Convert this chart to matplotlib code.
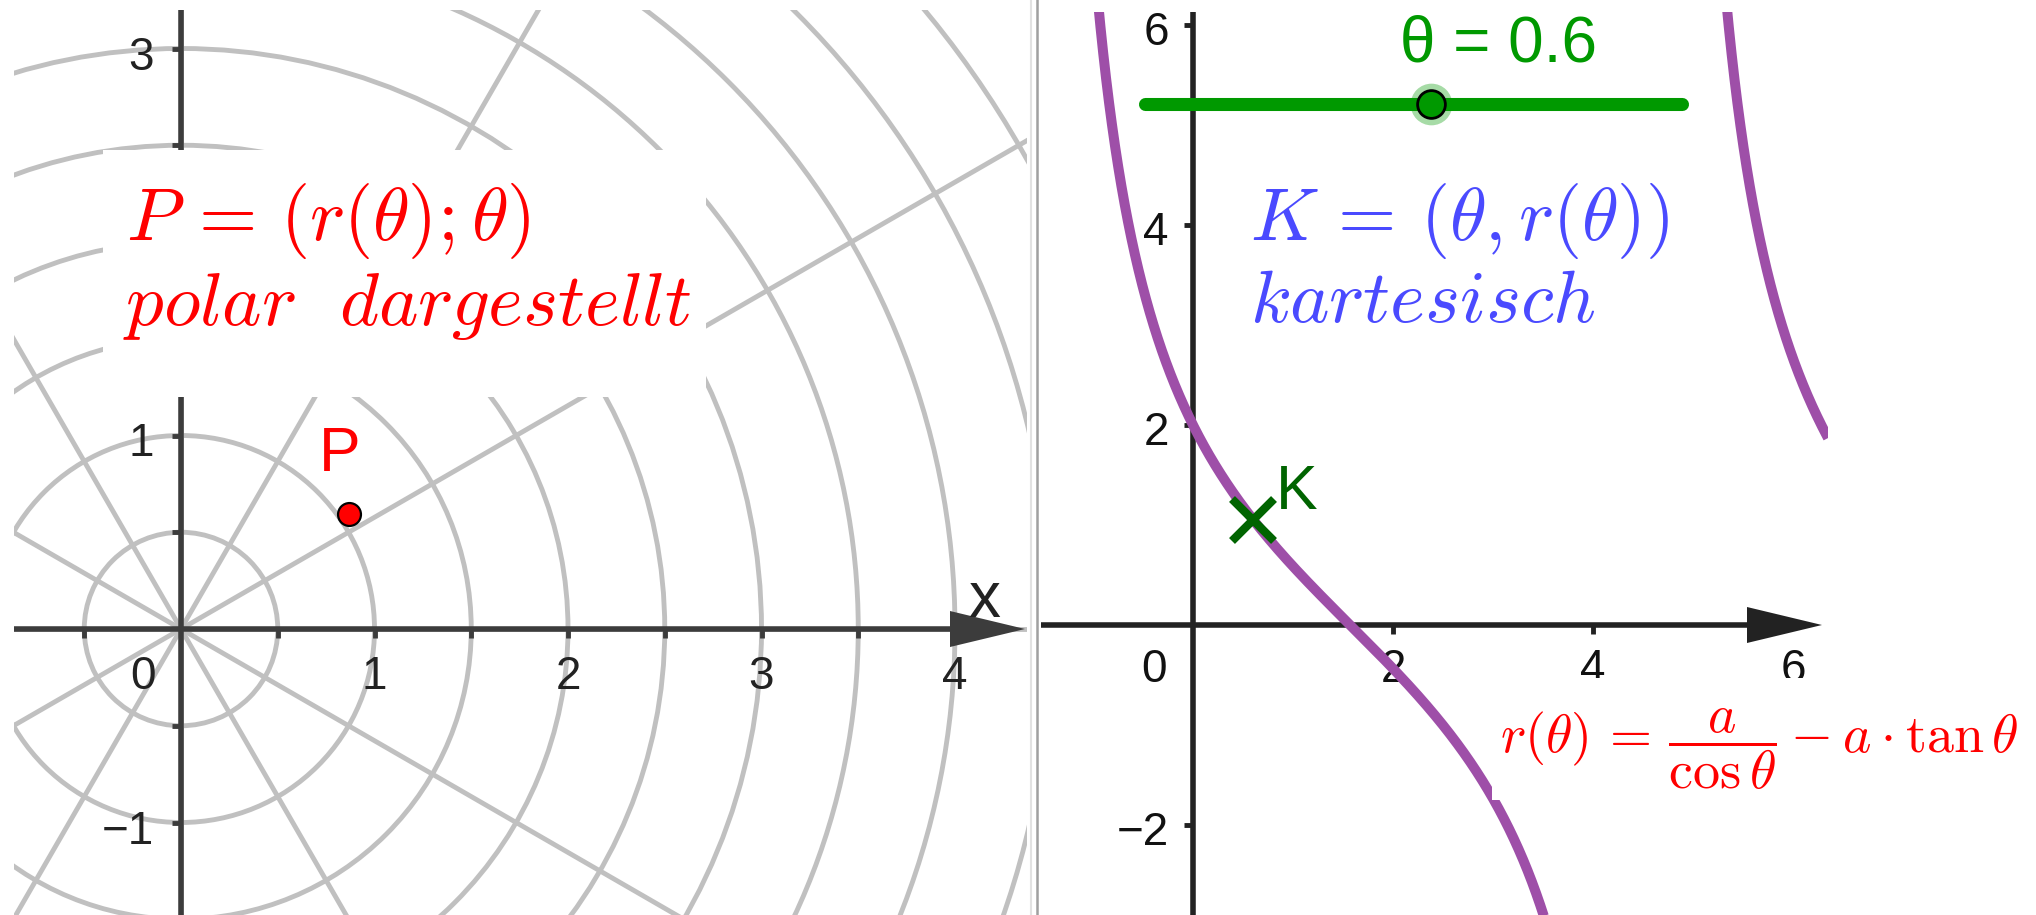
import numpy as np
import matplotlib.pyplot as plt
from matplotlib.patches import Rectangle, Circle
from matplotlib.lines import Line2D
from matplotlib import transforms

plt.rcParams['mathtext.fontset'] = 'cm'
plt.rcParams['font.family'] = ['Liberation Sans', 'DejaVu Sans']

W, H = 2036, 915

# r(theta) = a/cos(theta) - a*tan(theta), slider for theta
a = 2.0
theta = 0.6
slider_min, slider_max = -1.0, 2.0
slider_x = [-0.48, 4.89]
slider_y = 5.21

# polar grid of the left view
grid_radii = np.arange(0.5, 6.0, 0.5)
grid_angles = np.deg2rad(np.arange(0, 360, 30))

left_xticks = [-0.5, 0.5, 1, 1.5, 2, 2.5, 3, 3.5]
left_xlabels = [1, 2, 3, 4]
left_yticks = [-1.5, -1, -0.5, 0.5, 1, 2.5, 3]
left_ylabels = [-1, 1, 3]

right_xticks = [2, 4]
right_xlabels = [2, 4, 6]
right_yticks = [-2, 2, 4, 6]
right_ylabels = [-2, 2, 4, 6]

RED = '#ff0000'
BLUE = '#4a4aff'
GREEN = '#009900'
DKGREEN = '#006400'
PURPLE = '#9e4fa8'
GRID = '#c0c0c0'

fig = plt.figure(figsize=(W / 100, H / 100), dpi=100)


def px_axes(x0, y0, x1, y1, ox, oy, s):
    ax = fig.add_axes([x0 / W, 1 - y1 / H, (x1 - x0) / W, (y1 - y0) / H])
    ax.set_xlim((x0 - ox) / s, (x1 - ox) / s)
    ax.set_ylim((oy - y1) / s, (oy - y0) / s)
    ax.axis('off')
    return ax


def shifted(ax, dx, dy):
    return transforms.offset_copy(ax.transData, fig=fig, x=dx, y=dy, units='dots')


def fx(x):
    return x / W


def fy(y):
    return 1 - y / H


def draw_axes(ax, s, xtip, color, xticks, yticks):
    x0 = ax.get_xlim()[0]
    ax.plot([x0, xtip - 40 / s], [0, 0], color=color, lw=4, zorder=3,
            solid_capstyle='butt')
    ax.axvline(0, color=color, lw=4, zorder=3)
    ax.fill([xtip, xtip - 75 / s, xtip - 75 / s],
            [0, 18 / s, -18 / s], color=color, zorder=3, lw=0)
    for t in xticks:
        ax.plot([t, t], [0, -9 / s], color=color, lw=3.5, zorder=3,
                solid_capstyle='butt')
    for t in yticks:
        ax.plot([0, -9 / s], [t, t], color=color, lw=3.5, zorder=3,
                solid_capstyle='butt')


# ---------- left view: polar ----------
sL = 193.5
axL = px_axes(14, 10, 1027, 915, 181, 629, sL)
for rad in grid_radii:
    axL.add_patch(Circle((0, 0), rad, fill=False, ec=GRID, lw=3.5, zorder=1))
for ang in grid_angles:
    axL.plot([0, 8 * np.cos(ang)], [0, 8 * np.sin(ang)], color=GRID, lw=3.5,
             zorder=1)
draw_axes(axL, sL, (1025 - 181) / sL, '#3c3c3c', left_xticks, left_yticks)

for v in left_xlabels:
    axL.text(v, 0, str(v), transform=shifted(axL, 0, -60), ha='center',
             va='baseline', fontsize=33, color='#222222')
axL.text(0, 0, '0', transform=shifted(axL, -38, -60), ha='center',
         va='baseline', fontsize=33, color='#222222')
for v in left_ylabels:
    axL.text(0, v, str(v).replace('-', '\u2212'), transform=shifted(axL, -27, -21),
             ha='right', va='baseline', fontsize=33, color='#222222')
axL.text(4.15, 0.15, 'x', ha='center', va='center', fontsize=46, color='#222222')

r_p = a / np.cos(theta) - a * np.tan(theta)
axL.plot([r_p * np.cos(theta)], [r_p * np.sin(theta)], 'o', ms=16.5, mfc=RED,
         mec='black', mew=1.6, zorder=5)
axL.text(0.82, 0.90, 'P', ha='center', va='center', fontsize=45, color=RED)

# ---------- right view: cartesian ----------
sR = 100
axR = px_axes(1041, 12, 1828, 915, 1193, 625, sR)
draw_axes(axR, sR, (1822 - 1193) / sR, '#222222', right_xticks, right_yticks)

for v in right_xlabels:
    axR.text(v, 0, str(v), transform=shifted(axR, 0, -57), ha='center',
             va='baseline', fontsize=33, color='#111111')
axR.text(0, 0, '0', transform=shifted(axR, -39, -57), ha='center',
         va='baseline', fontsize=33, color='#111111')
for v in right_ylabels:
    axR.text(0, v, str(v).replace('-', '\u2212'), transform=shifted(axR, -24, -20),
             ha='right', va='baseline', fontsize=33, color='#111111')

for lo, hi in [(-1.56, 4.70), (4.725, 6.45)]:
    t = np.linspace(lo, hi, 3000)
    r = a / np.cos(t) - a * np.tan(t)
    r[np.abs(r) > 60] = np.nan
    axR.plot(t, r, color=PURPLE, lw=7.2, zorder=4, solid_capstyle='butt')

axR.plot([theta], [r_p], 'x', ms=30, mew=6, color=DKGREEN, zorder=6)
axR.text(theta, r_p, 'K', transform=shifted(axR, 44, 27), ha='center',
         va='center', fontsize=45, color=DKGREEN)

# slider for theta
axR.plot(slider_x, [slider_y, slider_y], color=GREEN, lw=9.4,
         solid_capstyle='round', zorder=5)
knob = slider_x[0] + (theta - slider_min) / (slider_max - slider_min) * (slider_x[1] - slider_x[0])
axR.plot([knob], [slider_y], 'o', ms=30, color=GREEN, alpha=0.35, mew=0, zorder=6)
axR.plot([knob], [slider_y], 'o', ms=20, mfc=GREEN, mec='black', mew=2, zorder=7)
axR.text((1400 - 1193) / sR, (625 - 62) / sR, '\u03b8 = %g' % theta, ha='left',
         va='baseline', fontsize=46, color=GREEN)

# ---------- overlays ----------
fig.add_artist(Line2D([fx(1031), fx(1031)], [0, 1], color='#e2e2e2', lw=1.5,
                      transform=fig.transFigure))
fig.add_artist(Line2D([fx(1037), fx(1037)], [0, 1], color='#a0a0a0', lw=1.8,
                      transform=fig.transFigure))

fig.patches.append(Rectangle((fx(103), fy(397)), (706 - 103) / W, (397 - 150) / H,
                             transform=fig.transFigure, fc='white', ec='none',
                             zorder=1))
fig.patches.append(Rectangle((fx(1492), fy(800)), (W - 1492) / W, (800 - 678) / H,
                             transform=fig.transFigure, fc='white', ec='none',
                             zorder=1))

fig.text(fx(126), fy(240), r'$P\,=\,(r(\theta);\theta)$', ha='left', va='baseline',
         fontsize=54, color=RED, zorder=3)
fig.text(fx(123), fy(325), r'$polar\ \ dargestellt$', ha='left', va='baseline',
         fontsize=54, color=RED, zorder=3)
fig.text(fx(1250), fy(240), r'$K\,=\,(\theta,r(\theta))$', ha='left', va='baseline',
         fontsize=54, color=BLUE, zorder=3)
fig.text(fx(1250), fy(322), r'$kartesisch$', ha='left', va='baseline',
         fontsize=54, color=BLUE, zorder=3)
fig.text(fx(1500), fy(753),
         r'$r(\theta)\,=\,\dfrac{a}{\cos\theta}-a\cdot\tan\theta$',
         ha='left', va='baseline', fontsize=39, color=RED, zorder=3)

fig.savefig('out.png', dpi=100)
